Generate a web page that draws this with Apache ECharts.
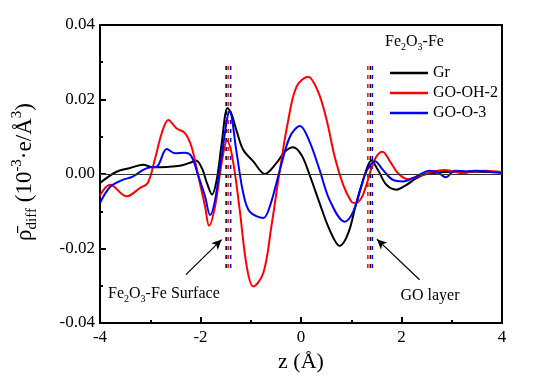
<!DOCTYPE html>
<html>
<head>
<meta charset="utf-8">
<script src="https://cdn.jsdelivr.net/npm/echarts@6/dist/echarts.min.js"></script>
<style>html,body{margin:0;padding:0;background:#fff;}#c{width:544px;height:388px;}</style>
</head>
<body>
<div id="c"></div>
<script>
// ---- data (z in Å, rho_diff) ----
const grData = [[-4.00,-0.0024],[-3.67,0.0006],[-3.40,0.0016],[-3.14,0.0025],[-2.95,0.0018],[-2.67,0.0019],[-2.41,0.0022],[-2.21,0.0030],[-2.09,0.0036],[-1.97,0.0015],[-1.87,-0.0025],[-1.77,-0.0055],[-1.67,-0.0010],[-1.58,0.0080],[-1.46,0.0177],[-1.38,0.0160],[-1.28,0.0115],[-1.15,0.0065],[-0.95,0.0034],[-0.72,0.0000],[-0.49,0.0029],[-0.32,0.0060],[-0.16,0.0072],[0.01,0.0051],[0.17,-0.0002],[0.37,-0.0078],[0.57,-0.0150],[0.77,-0.0193],[0.94,-0.0159],[1.10,-0.0078],[1.27,-0.0002],[1.40,0.0036],[1.53,0.0011],[1.70,-0.0029],[1.90,-0.0042],[2.10,-0.0029],[2.30,-0.0011],[2.50,0.0000],[3.00,0.0006],[3.50,0.0006],[4.00,0.0005]];
const goOH2Data = [[-4.00,-0.0058],[-3.80,-0.0029],[-3.47,-0.0060],[-3.20,-0.0037],[-3.05,-0.0024],[-2.91,0.0038],[-2.77,0.0110],[-2.64,0.0145],[-2.48,0.0123],[-2.31,0.0110],[-2.18,0.0074],[-2.05,-0.0002],[-1.91,-0.0087],[-1.83,-0.0139],[-1.71,-0.0087],[-1.58,0.0029],[-1.47,0.0089],[-1.36,0.0040],[-1.22,-0.0096],[-1.08,-0.0248],[-0.95,-0.0302],[-0.75,-0.0266],[-0.59,-0.0141],[-0.42,0.0011],[-0.26,0.0140],[-0.09,0.0234],[0.14,0.0261],[0.34,0.0221],[0.51,0.0145],[0.67,0.0047],[0.84,-0.0029],[1.00,-0.0074],[1.07,-0.0078],[1.20,-0.0065],[1.30,-0.0030],[1.40,0.0015],[1.50,0.0047],[1.62,0.0060],[1.77,0.0034],[1.93,0.0002],[2.13,-0.0014],[2.33,-0.0007],[2.56,0.0004],[2.86,0.0011],[3.02,0.0007],[3.22,0.0002],[3.42,0.0007],[3.69,0.0009],[4.00,0.0005]];
const goO3Data = [[-4.00,-0.0078],[-3.80,-0.0035],[-3.55,-0.0016],[-3.35,-0.0007],[-3.14,0.0011],[-3.00,0.0018],[-2.87,0.0020],[-2.67,0.0067],[-2.51,0.0056],[-2.31,0.0057],[-2.18,0.0047],[-2.05,-0.0002],[-1.91,-0.0060],[-1.81,-0.0110],[-1.71,-0.0070],[-1.58,0.0047],[-1.42,0.0168],[-1.28,0.0056],[-1.15,-0.0051],[-1.02,-0.0101],[-0.75,-0.0118],[-0.62,-0.0087],[-0.42,0.0011],[-0.22,0.0100],[-0.02,0.0129],[0.17,0.0087],[0.37,0.0011],[0.57,-0.0070],[0.87,-0.0128],[1.04,-0.0101],[1.20,-0.0034],[1.30,0.0007],[1.47,0.0034],[1.63,0.0011],[1.83,-0.0016],[2.03,-0.0020],[2.26,-0.0009],[2.56,0.0009],[2.73,0.0004],[2.88,-0.0009],[3.06,0.0009],[3.29,0.0007],[3.49,0.0009],[3.82,0.0005],[4.00,0.0003]];
const seriesNames = ['Gr', 'GO-OH-2', 'GO-O-3'];
const seriesColors = ['#000000', '#ff0000', '#0000ff'];
const surfaceLineZ = [-1.49, -1.45, -1.40];
const surfaceLineColors = ['#000000', '#ff0000', '#0000ff'];
const layerLineZ = [1.33, 1.38, 1.42];
const layerLineColors = ['#ff0000', '#000000', '#0000ff'];
const dashTop = 0.029, dashBottom = -0.0265;
const xTicks = [-4, -2, 0, 2, 4];
const yTicks = [-0.04, -0.02, 0.00, 0.02, 0.04];
const surfaceArrow = [[-2.29, -0.0270], [-1.58, -0.0176]];
const layerArrow = [[2.36, -0.0284], [1.51, -0.0175]];

const FONT = 'Liberation Serif';
const chart = echarts.init(document.getElementById('c'), null, {renderer: 'canvas'});

const dashSeries = [];
function addDash(z, color) {
  dashSeries.push({
    type: 'line', data: [[z, dashTop], [z, dashBottom]], symbol: 'none', silent: true,
    lineStyle: {color: color, width: 1.5, type: [4, 5]}, z: 1
  });
}
surfaceLineZ.forEach((z, i) => addDash(z, surfaceLineColors[i]));
layerLineZ.forEach((z, i) => addDash(z, layerLineColors[i]));

const curveData = [grData, goOH2Data, goO3Data];
const curves = curveData.map((d, i) => ({
  name: seriesNames[i], type: 'line', data: d, symbol: 'none', smooth: 0.35,
  lineStyle: {color: seriesColors[i], width: 2}, itemStyle: {color: seriesColors[i]}, z: 3
}));
curves[0].markLine = {
  silent: true, symbol: ['none', 'none'], label: {show: false},
  lineStyle: {color: '#333', width: 1, type: 'solid'},
  data: [{yAxis: 0}]
};
const arrowSeries = {
  type: 'line', data: [], symbol: 'none', silent: true,
  markLine: {
    silent: true, symbol: ['none', 'arrow'], symbolSize: [7, 10], label: {show: false},
    lineStyle: {color: '#000', width: 1.2, type: 'solid'},
    data: [
      [{coord: surfaceArrow[0]}, {coord: surfaceArrow[1]}],
      [{coord: layerArrow[0]}, {coord: layerArrow[1]}]
    ]
  }
};

chart.setOption({
  animation: false,
  backgroundColor: '#fff',
  grid: {left: 100, right: 42, top: 25, bottom: 65, show: true, borderColor: '#000', borderWidth: 2, containLabel: false},
  legend: {
    data: seriesNames, orient: 'vertical', left: 385, top: 58, icon: 'rect',
    itemWidth: 38, itemHeight: 2.5, itemGap: 0,
    textStyle: {fontFamily: FONT, fontSize: 16, color: '#000', lineHeight: 20}
  },
  xAxis: {
    type: 'value', min: xTicks[0], max: xTicks[xTicks.length - 1], interval: 2,
    axisLine: {onZero: false, lineStyle: {color: '#000', width: 2}},
    axisTick: {inside: true, length: 6, lineStyle: {width: 2, color: '#000'}},
    minorTick: {show: true, splitNumber: 2, length: 3, lineStyle: {width: 2, color: '#000'}},
    splitLine: {show: false},
    axisLabel: {fontFamily: FONT, fontSize: 17, color: '#000', margin: 6},
    name: 'z (Å)', nameLocation: 'middle', nameGap: 28,
    nameTextStyle: {fontFamily: FONT, fontSize: 22, color: '#000'}
  },
  yAxis: {
    type: 'value', min: yTicks[0], max: yTicks[yTicks.length - 1], interval: 0.02,
    axisLine: {onZero: false, lineStyle: {color: '#000', width: 2}},
    axisTick: {inside: true, length: 6, lineStyle: {width: 2, color: '#000'}},
    minorTick: {show: true, splitNumber: 2, length: 3, lineStyle: {width: 2, color: '#000'}},
    splitLine: {show: false},
    axisLabel: {fontFamily: FONT, fontSize: 17, color: '#000', margin: 5,
      formatter: v => v.toFixed(2)}
  },
  graphic: [
    {
      type: 'text', x: 25, y: 172, rotation: Math.PI / 2,
      style: {
        text: '{m|ρ\u0304}{sub|diff}{m| (10}{sup|-3}{m|·e/Å}{sup|3}{m|)}',
        align: 'center', verticalAlign: 'middle', fill: '#000',
        rich: {
          m: {fontFamily: FONT, fontSize: 23, lineHeight: 30, fill: '#000'},
          sub: {fontFamily: FONT, fontSize: 15, lineHeight: 14, verticalAlign: 'bottom', fill: '#000'},
          sup: {fontFamily: FONT, fontSize: 15, lineHeight: 14, verticalAlign: 'top', fill: '#000'}
        }
      }
    },
    {
      type: 'text', x: 385, y: 42,
      style: {
        text: '{m|Fe}{sub|2}{m|O}{sub|3}{m|-Fe}',
        align: 'left', verticalAlign: 'middle', fill: '#000',
        rich: {
          m: {fontFamily: FONT, fontSize: 16, lineHeight: 20, fill: '#000'},
          sub: {fontFamily: FONT, fontSize: 10, lineHeight: 10, verticalAlign: 'bottom', fill: '#000'}
        }
      }
    },
    {
      type: 'text', x: 108, y: 294,
      style: {
        text: '{m|Fe}{sub|2}{m|O}{sub|3}{m|-Fe Surface}',
        align: 'left', verticalAlign: 'middle', fill: '#000',
        rich: {
          m: {fontFamily: FONT, fontSize: 16, lineHeight: 20, fill: '#000'},
          sub: {fontFamily: FONT, fontSize: 10, lineHeight: 10, verticalAlign: 'bottom', fill: '#000'}
        }
      }
    },
    {
      type: 'text', x: 430, y: 296,
      style: {text: 'GO layer', align: 'center', verticalAlign: 'middle',
        fontFamily: FONT, fontSize: 16, fill: '#000'}
    }
  ],
  series: [...dashSeries, ...curves, arrowSeries]
});
</script>
</body>
</html>
